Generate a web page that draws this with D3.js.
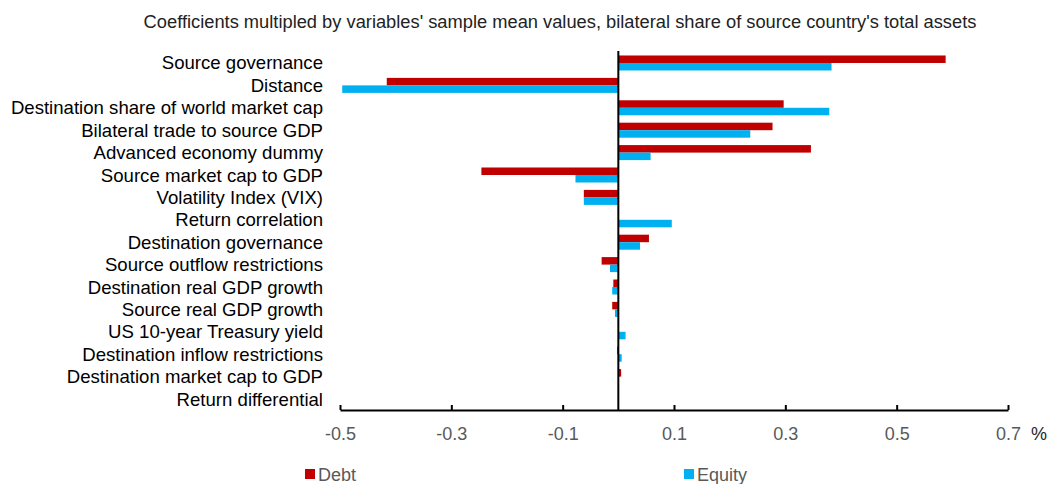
<!DOCTYPE html>
<html>
<head>
<meta charset="utf-8">
<script src="https://cdn.jsdelivr.net/npm/d3@7"></script>
<style>
  body { margin: 0; background: #fff; }
  svg { display: block; font-family: "Liberation Sans", Arial, sans-serif; }
</style>
</head>
<body>
<svg id="chart" width="1047" height="484"></svg>
<script>
// categories top to bottom
var categories = [
    "Source governance", "Distance", "Destination share of world market cap",
    "Bilateral trade to source GDP", "Advanced economy dummy", "Source market cap to GDP",
    "Volatility Index (VIX)", "Return correlation", "Destination governance",
    "Source outflow restrictions", "Destination real GDP growth", "Source real GDP growth",
    "US 10-year Treasury yield", "Destination inflow restrictions",
    "Destination market cap to GDP", "Return differential"
];
var debt   = [0.588, -0.416, 0.297, 0.277, 0.346, -0.246, -0.062, 0, 0.055, -0.030, -0.009, -0.011, 0, -0.002, 0.005, 0];
var equity = [0.383, -0.496, 0.379, 0.237, 0.058, -0.077, -0.062, 0.096, 0.039, -0.015, -0.011, -0.006, 0.013, 0.006, 0, 0];
var seriesNames = ["Debt", "Equity"];
var seriesColors = ["#C00000", "#00B0F0"];
var xTicks = [-0.5, -0.3, -0.1, 0.1, 0.3, 0.5, 0.7];

var svg = d3.select("#chart");

var x = d3.scaleLinear().domain([-0.5, 0.7]).range([340, 1008]);
var y0 = d3.scaleBand().domain(categories).range([51, 411]).paddingInner(0.33).paddingOuter(0.2);
var y1 = d3.scaleBand().domain(seriesNames).range([0, y0.bandwidth()]);

// subtitle
svg.append("text")
    .attr("x", 560).attr("y", 28)
    .attr("text-anchor", "middle")
    .style("font-size", "18.3px").style("fill", "#222")
    .text("Coefficients multipled by variables' sample mean values, bilateral share of source country's total assets");

// bars
var rows = categories.map(function (c, i) {
    return { cat: c, vals: [debt[i], equity[i]] };
});
var g = svg.append("g");
rows.forEach(function (r) {
    r.vals.forEach(function (v, j) {
        g.append("rect")
            .attr("x", x(Math.min(0, v)))
            .attr("y", y0(r.cat) + y1(seriesNames[j]))
            .attr("width", Math.abs(x(v) - x(0)))
            .attr("height", y1.bandwidth())
            .attr("fill", seriesColors[j]);
    });
});

// category labels
svg.append("g").selectAll("text")
    .data(categories).enter().append("text")
    .attr("x", 323)
    .attr("y", function (d) { return y0(d) + y0.bandwidth() / 2; })
    .attr("dy", "0.35em")
    .attr("text-anchor", "end")
    .style("font-size", "18.6px").style("fill", "#000")
    .text(function (d) { return d; });

// x axis with ticks pointing up
var xAxis = d3.axisBottom(x).tickValues(xTicks)
    .tickSizeInner(-5).tickSizeOuter(0).tickPadding(17)
    .tickFormat(function (d) { return d.toFixed(1); });
var ax = svg.append("g").attr("transform", "translate(0,410)").call(xAxis);
ax.select(".domain").attr("stroke", "#000").attr("stroke-width", 2);
ax.selectAll(".tick line").attr("stroke", "#000").attr("stroke-width", 2);
ax.selectAll(".tick text").style("font-size", "18px").style("fill", "#595959")
    .style("font-family", "'Liberation Sans', Arial, sans-serif");

// zero line
svg.append("line")
    .attr("x1", x(0)).attr("x2", x(0))
    .attr("y1", 51).attr("y2", 411)
    .attr("stroke", "#000").attr("stroke-width", 2);

svg.append("text")
    .attr("x", 1031).attr("y", 440)
    .style("font-size", "18px").style("fill", "#262626")
    .text("%");

// legend
var legendX = [305, 684];
seriesNames.forEach(function (s, i) {
    svg.append("rect")
        .attr("x", legendX[i]).attr("y", 469)
        .attr("width", 10).attr("height", 10)
        .attr("fill", seriesColors[i]);
    svg.append("text")
        .attr("x", legendX[i] + 13).attr("y", 481)
        .style("font-size", "18px").style("fill", "#595959")
        .text(s);
});
</script>
</body>
</html>
